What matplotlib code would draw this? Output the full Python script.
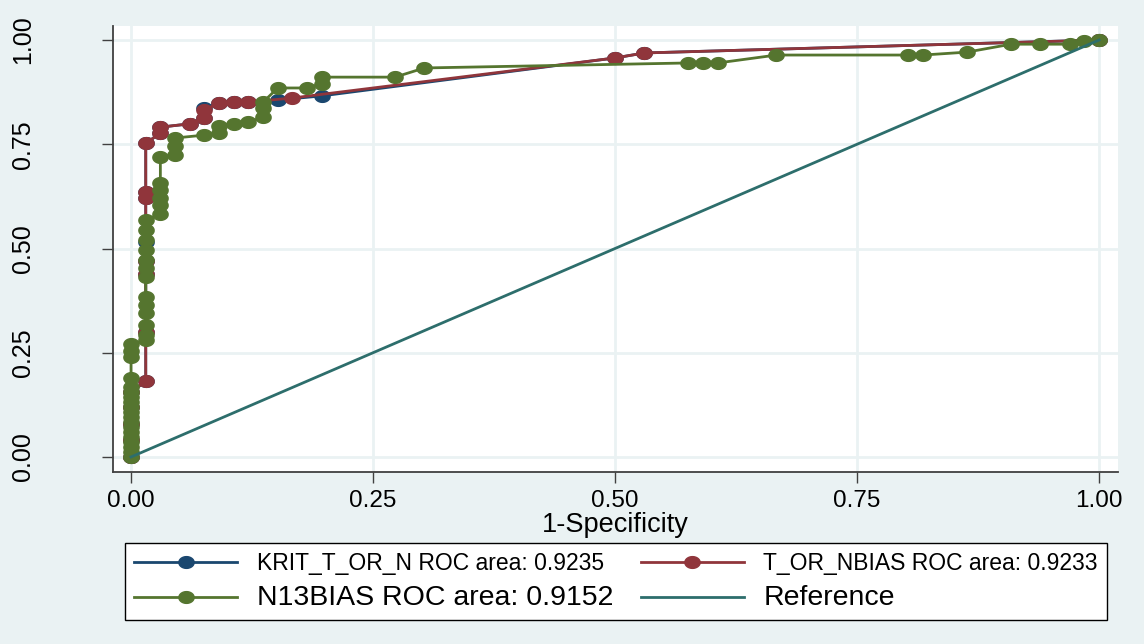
import matplotlib.pyplot as plt
import numpy as np

plt.rcParams['font.family'] = ['Liberation Sans', 'DejaVu Sans']

# KRIT_T_OR_N
krit_x = [0, 0, 0, 0, 0, 0.0152, 0.0152, 0.0152, 0.0152, 0.0152, 0.0152, 0.0152, 0.0152,
          0.0303, 0.0303, 0.0606, 0.0758, 0.0758, 0.0909, 0.1061, 0.1212, 0.1515, 0.1970,
          0.5, 0.5303, 1.0]
krit_y = [0, 0.04, 0.08, 0.12, 0.155, 0.182, 0.30, 0.44, 0.47, 0.516, 0.62, 0.635, 0.752,
          0.777, 0.791, 0.799, 0.813, 0.837, 0.849, 0.851, 0.851, 0.856, 0.866,
          0.957, 0.969, 1.0]

# T_OR_NBIAS
tor_x = [0, 0, 0, 0, 0, 0.0152, 0.0152, 0.0152, 0.0152, 0.0152, 0.0152, 0.0152,
         0.0303, 0.0303, 0.0606, 0.0758, 0.0758, 0.0909, 0.1061, 0.1212, 0.1667,
         0.5, 0.5303, 1.0]
tor_y = [0, 0.04, 0.08, 0.12, 0.155, 0.182, 0.30, 0.44, 0.47, 0.62, 0.635, 0.752,
         0.777, 0.791, 0.799, 0.813, 0.832, 0.849, 0.851, 0.851, 0.861,
         0.957, 0.969, 1.0]

# N13BIAS
n13_x = [0] * 19 + [0.0152] * 13 + [0.0303] * 6 + [0.0455] * 3 + [0.0758] + [0.0909] * 2 + \
        [0.1061, 0.1212] + [0.1364] * 3 + [0.1515, 0.1818, 0.1970, 0.1970, 0.2727, 0.3030,
        0.5758, 0.5909, 0.6061, 0.6667, 0.8030, 0.8182, 0.8636, 0.9091, 0.9394, 0.9697,
        0.9848, 1.0]
n13_y = [0, 0.012, 0.024, 0.036, 0.048, 0.06, 0.072, 0.084, 0.096, 0.108, 0.12, 0.132,
         0.144, 0.156, 0.168, 0.19, 0.24, 0.255, 0.27,
         0.28, 0.293, 0.317, 0.345, 0.365, 0.384, 0.432, 0.453, 0.472, 0.496, 0.52, 0.544, 0.568,
         0.583, 0.604, 0.621, 0.640, 0.657, 0.719,
         0.724, 0.746, 0.765,
         0.772,
         0.777, 0.794,
         0.799, 0.803,
         0.815, 0.837, 0.851,
         0.885, 0.885, 0.895, 0.911, 0.911, 0.933,
         0.945, 0.945, 0.945, 0.964, 0.964, 0.964, 0.971, 0.990, 0.990, 0.990,
         0.998, 1.0]

labels = ['KRIT_T_OR_N ROC area: 0.9235', 'T_OR_NBIAS ROC area: 0.9233',
          'N13BIAS ROC area: 0.9152', 'Reference']
ticks = [0, 0.25, 0.5, 0.75, 1.0]
tick_labels = ['0.00', '0.25', '0.50', '0.75', '1.00']

navy = '#1a476f'
maroon = '#90353b'
green = '#55752f'
teal = '#2d6e6c'
bg = '#eaf2f3'

# slightly flattened circle like the stata markers
t = np.linspace(0, 2 * np.pi, 40)
ell = np.column_stack([1.3 * np.cos(t), np.sin(t)])

fig = plt.figure(figsize=(11.44, 6.44), dpi=100, facecolor=bg)
ax = fig.add_axes([0.0988, 0.2671, 0.8785, 0.6925])
ax.set_facecolor('white')

h1, = ax.plot(krit_x, krit_y, color=navy, lw=2, marker=ell, ms=11, zorder=2)
h2, = ax.plot(tor_x, tor_y, color=maroon, lw=2, marker=ell, ms=11, zorder=3)
h3, = ax.plot(n13_x, n13_y, color=green, lw=2, marker=ell, ms=11, zorder=4)
h4, = ax.plot([0, 1], [0, 1], color=teal, lw=2, zorder=5)

ax.set_xlim(-0.0186, 1.0196)
ax.set_ylim(-0.036, 1.0336)
ax.set_xticks(ticks)
ax.set_xticklabels(tick_labels, fontsize=17.5)
ax.set_yticks(ticks)
ax.set_yticklabels(tick_labels, fontsize=18, rotation=90, va='center')
ax.tick_params(axis='x', length=8, width=1, color='#404040', pad=5)
ax.tick_params(axis='y', length=8, width=1, color='#404040', pad=48)
ax.grid(True, color=bg, lw=2)
ax.set_axisbelow(True)
for s in ['top', 'right']:
    ax.spines[s].set_visible(False)
for s in ['left', 'bottom']:
    ax.spines[s].set_color('#404040')
    ax.spines[s].set_linewidth(1.3)
ax.set_xlabel('1-Specificity', fontsize=19.5, labelpad=0)

leg = fig.legend([h1, h3, h2, h4], [labels[0], labels[2], labels[1], labels[3]],
                 ncol=2, loc='center', bbox_to_anchor=(0.5385, 0.097),
                 fontsize=16.5, handlelength=4.5, handletextpad=0.85,
                 columnspacing=1.2, labelspacing=0.45, borderpad=0.4,
                 fancybox=False, edgecolor='black', facecolor='white', framealpha=1)
leg.get_frame().set_linewidth(1)
for txt in leg.get_texts():
    if txt.get_text().startswith('N13') or txt.get_text() == 'Reference':
        txt.set_fontsize(20.5)

fig.savefig('out.png', dpi=100, facecolor=bg)
